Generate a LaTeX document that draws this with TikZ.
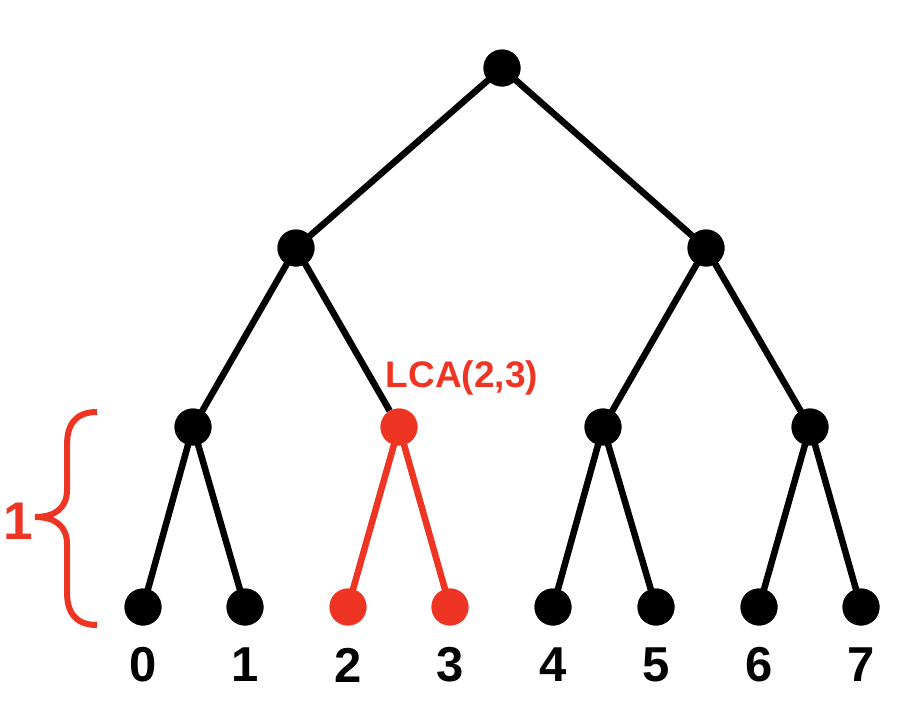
\documentclass[tikz,border=0pt]{standalone}
\usepackage{fontspec}
\setmainfont{Liberation Sans}
\definecolor{lcared}{HTML}{EE3524}
\begin{document}
\begin{tikzpicture}[x=1pt,y=-1pt,
  dot/.style={circle,fill=black,inner sep=0pt,minimum size=37pt},
  rdot/.style={dot,fill=lcared},
  edge/.style={line width=6.5pt,black},
  redge/.style={line width=6.5pt,lcared},
  lab/.style={font=\bfseries\fontsize{49}{49}\selectfont,anchor=center}]
\useasboundingbox (0,0) rectangle (898,712);
\node[dot] (r) at (502,68) {};
\node[dot] (a) at (296,248) {};
\node[dot] (b) at (706,248) {};
\node[dot] (c1) at (193,427) {};
\node[rdot] (c2) at (399,427) {};
\node[dot] (c3) at (603,427) {};
\node[dot] (c4) at (810,427) {};
\foreach \i/\x in {0/143,1/245,4/553,5/656,6/759,7/861}{
  \node[dot] (l\i) at (\x,607) {};
}
\node[rdot] (l2) at (348,607) {};
\node[rdot] (l3) at (450,607) {};
\draw[edge] (r.center) -- (a.center);
\draw[edge] (r.center) -- (b.center);
\draw[edge] (a.center) -- (c1.center);
\draw[edge] (a.center) -- (c2);
\draw[edge] (b.center) -- (c3.center);
\draw[edge] (b.center) -- (c4.center);
\draw[edge] (c1.center) -- (l0.center);
\draw[edge] (c1.center) -- (l1.center);
\draw[redge] (c2.center) -- (l2.center);
\draw[redge] (c2.center) -- (l3.center);
\draw[edge] (c3.center) -- (l4.center);
\draw[edge] (c3.center) -- (l5.center);
\draw[edge] (c4.center) -- (l6.center);
\draw[edge] (c4.center) -- (l7.center);
% redraw dots on top
\foreach \n in {r,a,b,c1,c3,c4,l0,l1,l4,l5,l6,l7}{
  \fill[black] (\n.center) circle (18.5pt);
}
\foreach \n in {c2,l2,l3}{
  \fill[lcared] (\n.center) circle (18.5pt);
}
\foreach \i/\x in {0/143,1/245,2/348,3/450,4/553,5/656,6/759,7/861}{
  \node[lab] (t\i) at (\x,665) {\i};
}
\node[font=\bfseries\fontsize{37}{37}\selectfont,text=lcared] (lca) at (462,378) {LCA(2,3)};
\draw[lcared,line width=6pt] (97,412) .. controls (75,412) and (67,425) .. (67,445) -- (67,490) .. controls (67,508) and (55,517) .. (35,517) .. controls (55,517) and (67,526) .. (67,544) -- (67,592) .. controls (67,612) and (75,625) .. (97,625);
\node[font=\bfseries\fontsize{53}{53}\selectfont,text=lcared] (one) at (18,521) {1};
\end{tikzpicture}
\end{document}
